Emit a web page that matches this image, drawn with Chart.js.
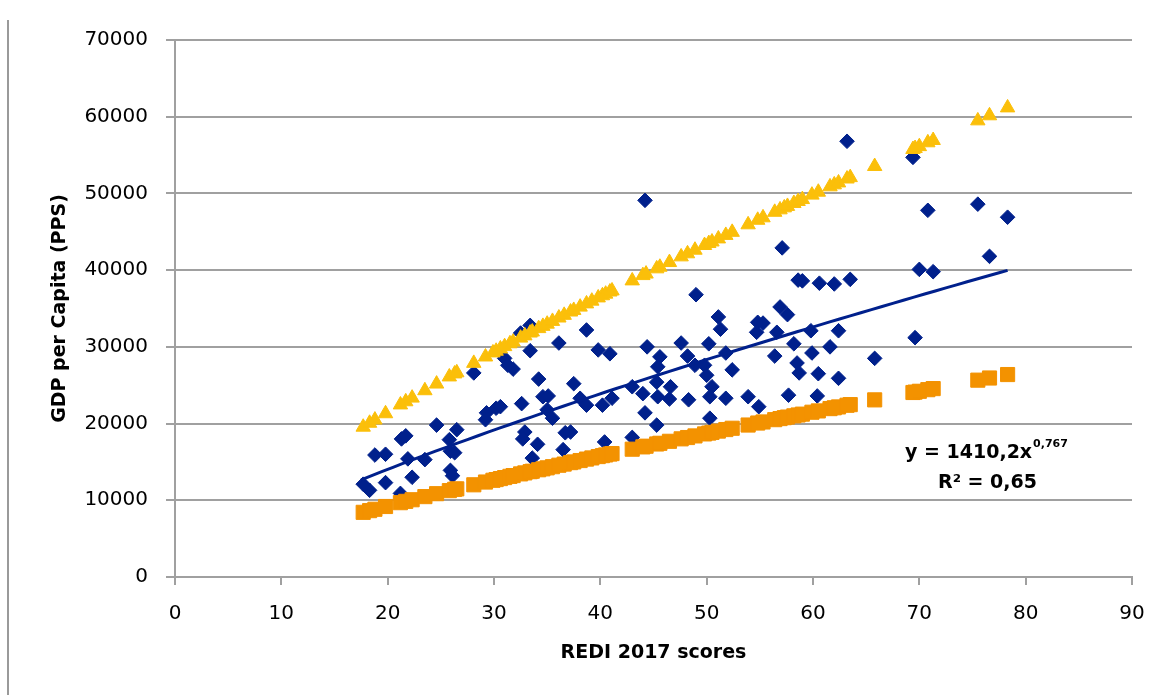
<!DOCTYPE html>
<html>
<head>
<meta charset="utf-8">
<title>REDI 2017 scores and GDP per capita</title>
<script src="https://cdn.jsdelivr.net/npm/chart.js@4.4.1/dist/chart.umd.min.js"></script>
<style>
  html, body { margin: 0; padding: 0; background: #ffffff; }
  #wrap { width: 1165px; height: 695px; position: relative; }
</style>
</head>
<body>
<div id="wrap"><canvas id="chart" width="1165" height="695"></canvas></div>
<script>
// Regional observations: REDI 2017 score and GDP per capita (PPS)
const rediScores = [
  17.7, 18.3, 18.8, 19.8, 19.8, 21.2, 21.3, 21.7, 21.9, 22.3,
  23.5, 24.6, 25.8, 26.5, 25.9, 26.3, 25.9, 26.1, 29.3, 30.2,
  29.2, 28.1, 31.0, 31.8, 32.5, 33.4, 33.4, 36.1, 38.7, 39.8,
  40.9, 34.2, 37.5, 34.6, 35.1, 32.6, 35.0, 35.5, 38.1, 38.7,
  40.2, 41.1, 43.0, 44.0, 44.4, 32.9, 32.7, 34.1, 36.7, 37.2,
  40.4, 43.0, 44.2, 33.6, 36.5, 30.6, 44.2, 49.0, 51.1, 51.3,
  54.8, 55.3, 54.7, 56.9, 57.6, 56.6, 47.6, 50.2, 51.8, 45.6,
  45.4, 48.2, 48.9, 49.8, 50.0, 52.4, 56.4, 45.3, 46.6, 45.4,
  46.5, 48.3, 50.5, 50.3, 51.8, 53.9, 54.9, 57.7, 45.3, 50.3,
  57.1, 58.6, 63.2, 59.0, 60.6, 62.0, 63.5, 59.8, 62.4, 58.2,
  61.6, 59.9, 58.5, 58.7, 60.5, 62.4, 65.8, 60.4, 70.8, 75.5,
  78.3, 76.6, 70.0, 71.3, 69.6, 69.4, 31.3
];
const gdpPerCapita = [
  12100, 11300, 15900, 16000, 12300, 10900, 18000, 18400, 15400, 13000,
  15300, 19800, 17900, 19200, 16400, 16200, 13900, 13200, 21400, 22000,
  20500, 26600, 28500, 27100, 31800, 32800, 29500, 30500, 32200, 29600,
  29100, 25800, 25200, 23500, 23600, 22600, 21800, 20700, 23300, 22400,
  22400, 23300, 24800, 23900, 30000, 18900, 18000, 17300, 18800, 18900,
  17600, 18200, 21400, 15500, 16600, 22200, 49100, 36800, 33900, 32300,
  33200, 33100, 31900, 35200, 34200, 31900, 30500, 30400, 29200, 28700,
  27400, 28800, 27600, 27600, 26300, 27000, 28800, 25400, 24800, 23500,
  23200, 23100, 24800, 23500, 23300, 23500, 22200, 23700, 19800, 20700,
  42900, 38700, 56800, 38600, 38300, 38200, 38800, 32100, 32100, 30400,
  30000, 29200, 27900, 26600, 26500, 25900, 28500, 23600, 47800, 48600,
  46900, 41800, 40100, 39800, 31200, 54700, 27600
];

// Upper and lower envelope markers along the score axis
const bandScores = [
  17.7, 18.3, 18.8, 19.8, 21.2, 21.7, 22.3, 23.5, 24.6, 25.8,
  26.3, 26.5, 28.1, 29.2, 29.9, 30.2, 30.6, 31.0, 31.5, 31.8,
  32.5, 32.9, 33.4, 33.6, 34.2, 34.6, 35.0, 35.5, 36.1, 36.6,
  37.2, 37.5, 38.1, 38.7, 39.2, 39.8, 40.2, 40.5, 40.9, 41.1,
  43.0, 44.0, 44.3, 45.3, 45.6, 46.5, 47.6, 48.2, 48.9, 49.8,
  50.2, 50.5, 51.1, 51.8, 52.4, 53.9, 54.8, 55.3, 56.4, 56.9,
  57.3, 57.6, 58.2, 58.6, 59.0, 59.9, 60.5, 61.6, 62.0, 62.4,
  63.2, 63.5, 65.8, 69.4, 69.6, 70.0, 70.8, 71.3, 75.5, 76.6,
  78.3
];
const upperBand = [
  19550, 20060, 20480, 21300, 22450, 22860, 23340, 24300, 25170, 26100,
  26490, 26640, 27870, 28700, 29230, 29450, 29750, 30050, 30420, 30640,
  31160, 31450, 31820, 31960, 32400, 32690, 32980, 33340, 33780, 34130,
  34560, 34770, 35200, 35620, 35980, 36400, 36680, 36890, 37170, 37310,
  38620, 39310, 39510, 40190, 40400, 41010, 41750, 42150, 42620, 43230,
  43490, 43690, 44090, 44550, 44950, 45930, 46520, 46840, 47560, 47880,
  48140, 48330, 48710, 48970, 49220, 49800, 50180, 50880, 51140, 51390,
  51900, 52080, 53530, 55750, 55880, 56120, 56620, 56920, 59480, 60140,
  61170
];
const lowerBand = [
  8430, 8650, 8830, 9190, 9690, 9860, 10070, 10480, 10860, 11260,
  11430, 11490, 12020, 12380, 12610, 12700, 12830, 12960, 13120, 13220,
  13440, 13570, 13730, 13790, 13980, 14100, 14230, 14380, 14570, 14720,
  14910, 15000, 15180, 15370, 15520, 15700, 15820, 15910, 16030, 16090,
  16660, 16960, 17050, 17340, 17430, 17690, 18010, 18180, 18390, 18650,
  18760, 18850, 19020, 19220, 19390, 19810, 20070, 20210, 20510, 20650,
  20770, 20850, 21010, 21120, 21230, 21480, 21650, 21950, 22060, 22170,
  22390, 22470, 23090, 24050, 24100, 24210, 24420, 24560, 25660, 25940,
  26390
];

// Power trend fitted to the observations (as printed on the chart)
const fitCoef = 1410.2;
const fitExp = 0.767;
const fitFrom = 17.5;
const fitTo = 78.3;

const xTickValues = [0, 10, 20, 30, 40, 50, 60, 70, 80, 90];
const yTickValues = [0, 10000, 20000, 30000, 40000, 50000, 60000, 70000];

const observations = rediScores.map((x, i) => ({ x: x, y: gdpPerCapita[i] }));
const upperPoints = bandScores.map((x, i) => ({ x: x, y: upperBand[i] }));
const lowerPoints = bandScores.map((x, i) => ({ x: x, y: lowerBand[i] }));

const trendPoints = [];
for (let x = fitFrom; x < fitTo; x += 1) {
  trendPoints.push({ x: x, y: fitCoef * Math.pow(x, fitExp) });
}
trendPoints.push({ x: fitTo, y: fitCoef * Math.pow(fitTo, fitExp) });

const NAVY = '#00208c';
const GOLD = '#fbbf0a';
const ORANGE = '#f39200';
const GRID = '#a0a0a0';
const TICK_FONT = { family: '"DejaVu Sans", sans-serif', size: 20 };
const BOLD_FAMILY = '"DejaVu Sans", sans-serif';

// Page frame, axis titles and the regression note
const decorations = {
  id: 'decorations',
  beforeDraw(chart) {
    const ctx = chart.ctx;
    ctx.save();
    ctx.fillStyle = '#ffffff';
    ctx.fillRect(0, 0, chart.width, chart.height);
    ctx.restore();
  },
  afterDraw(chart) {
    const ctx = chart.ctx;
    const area = chart.chartArea;
    ctx.save();

    // left frame rule
    ctx.strokeStyle = '#9a9a9a';
    ctx.lineWidth = 2;
    ctx.beginPath();
    ctx.moveTo(8, 20);
    ctx.lineTo(8, chart.height);
    ctx.stroke();

    ctx.fillStyle = '#000000';

    // x axis title
    ctx.font = 'bold 19px ' + BOLD_FAMILY;
    ctx.textAlign = 'center';
    ctx.textBaseline = 'middle';
    ctx.fillText('REDI 2017 scores', (area.left + area.right) / 2, 653);

    // y axis title
    ctx.save();
    ctx.translate(60, (area.top + area.bottom) / 2);
    ctx.rotate(-Math.PI / 2);
    ctx.fillText('GDP per Capita (PPS)', 0, 0);
    ctx.restore();

    // regression equation
    ctx.textAlign = 'left';
    ctx.textBaseline = 'alphabetic';
    ctx.font = 'bold 19px ' + BOLD_FAMILY;
    const eq = 'y = 1410,2x';
    ctx.fillText(eq, 905, 458);
    const w = ctx.measureText(eq).width;
    ctx.font = 'bold 11px ' + BOLD_FAMILY;
    ctx.fillText('0,767', 905 + w + 1, 447);
    ctx.font = 'bold 19px ' + BOLD_FAMILY;
    ctx.fillText('R\u00B2 = 0,65', 938, 488);

    ctx.restore();
  }
};

new Chart(document.getElementById('chart'), {
  type: 'scatter',
  data: {
    datasets: [
      {
        label: 'Upper',
        data: upperPoints,
        pointStyle: 'triangle',
        pointRadius: 8.3,
        backgroundColor: GOLD,
        borderColor: GOLD,
        borderWidth: 1,
        order: 0
      },
      {
        label: 'Lower',
        data: lowerPoints,
        pointStyle: 'rect',
        pointRadius: 10,
        backgroundColor: ORANGE,
        borderColor: ORANGE,
        borderWidth: 1,
        order: 1
      },
      {
        label: 'Power trend',
        type: 'line',
        data: trendPoints,
        borderColor: NAVY,
        borderWidth: 3,
        pointRadius: 0,
        fill: false,
        tension: 0,
        order: 2
      },
      {
        label: 'Regions',
        data: observations,
        pointStyle: 'rectRot',
        pointRadius: 7.3,
        backgroundColor: NAVY,
        borderColor: NAVY,
        borderWidth: 1,
        order: 3
      }
    ]
  },
  options: {
    responsive: false,
    animation: false,
    events: [],
    layout: { padding: { left: 0, right: 33, top: 40, bottom: 0 } },
    plugins: {
      legend: { display: false },
      tooltip: { enabled: false },
      title: { display: false }
    },
    scales: {
      x: {
        type: 'linear',
        min: 0,
        max: 90,
        afterBuildTicks: (scale) => { scale.ticks = xTickValues.map(v => ({ value: v })); },
        afterFit: (scale) => { scale.height = 118; },
        ticks: {
          font: TICK_FONT,
          color: '#000000',
          padding: 17,
          maxRotation: 0,
          callback: (v) => String(v)
        },
        grid: {
          drawOnChartArea: false,
          drawTicks: true,
          tickLength: 8,
          color: GRID,
          lineWidth: 2
        },
        border: { display: true, color: GRID, width: 2 }
      },
      y: {
        type: 'linear',
        min: 0,
        max: 70000,
        afterBuildTicks: (scale) => { scale.ticks = yTickValues.map(v => ({ value: v })); },
        afterFit: (scale) => { scale.width = 175; },
        ticks: {
          font: TICK_FONT,
          color: '#000000',
          padding: 18,
          callback: (v) => String(v)
        },
        grid: {
          drawTicks: true,
          tickLength: 9,
          color: GRID,
          lineWidth: 2
        },
        border: { display: true, color: GRID, width: 2 }
      }
    }
  },
  plugins: [decorations]
});
</script>
</body>
</html>
